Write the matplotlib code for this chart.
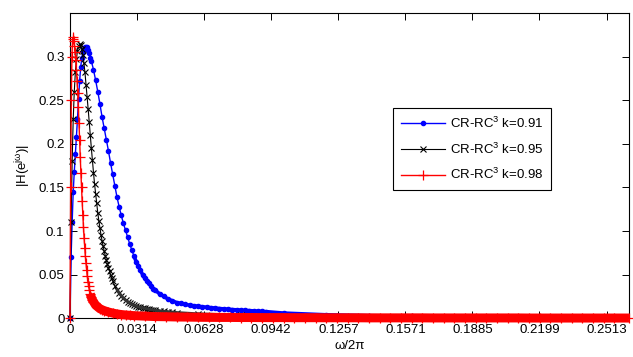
import matplotlib
matplotlib.use('Agg')
import matplotlib.pyplot as plt
import numpy as np

plt.rcParams['font.family'] = ['Liberation Sans', 'DejaVu Sans']
plt.rcParams['mathtext.fontset'] = 'custom'
plt.rcParams['mathtext.rm'] = 'Liberation Sans'
plt.rcParams['mathtext.it'] = 'Liberation Sans:italic'
plt.rcParams['mathtext.default'] = 'regular'

# ---- data ----
blue_x = [0, 0.0005, 0.001, 0.0015, 0.002, 0.0025, 0.003, 0.0035, 0.004, 0.0045, 0.005, 0.0055,
          0.006, 0.0065, 0.007, 0.0075, 0.008, 0.0085, 0.009, 0.0095, 0.010, 0.011, 0.012, 0.013,
          0.014, 0.015, 0.016, 0.017, 0.018, 0.019, 0.020, 0.021, 0.022, 0.023, 0.024, 0.025,
          0.026, 0.027, 0.028, 0.029, 0.030, 0.031, 0.032, 0.033, 0.034, 0.035, 0.036, 0.037,
          0.038, 0.039, 0.040, 0.042, 0.044, 0.046, 0.048, 0.050, 0.052, 0.054, 0.056, 0.058,
          0.060, 0.062, 0.064, 0.066, 0.068, 0.070, 0.072, 0.074, 0.076, 0.078, 0.080, 0.082,
          0.084, 0.086, 0.088, 0.090, 0.092, 0.100, 0.120, 0.140, 0.160, 0.180, 0.200, 0.220,
          0.240, 0.260]
blue_y = [0.000, 0.070, 0.110, 0.145, 0.168, 0.188, 0.208, 0.229, 0.252, 0.272, 0.288, 0.298,
          0.305, 0.309, 0.311, 0.311, 0.311, 0.308, 0.304, 0.299, 0.295, 0.285, 0.273, 0.260,
          0.246, 0.231, 0.218, 0.205, 0.192, 0.178, 0.165, 0.152, 0.139, 0.128, 0.118, 0.109,
          0.101, 0.093, 0.085, 0.078, 0.071, 0.065, 0.060, 0.055, 0.050, 0.046, 0.043, 0.040,
          0.037, 0.034, 0.032, 0.028, 0.025, 0.022, 0.020, 0.018, 0.0170, 0.0160, 0.0150, 0.0144,
          0.0138, 0.0132, 0.0127, 0.0122, 0.0117, 0.0112, 0.0108, 0.0104, 0.0100, 0.0097, 0.0094, 0.0091,
          0.0088, 0.0085, 0.0082, 0.0079, 0.0076, 0.0060, 0.0040, 0.0030, 0.0025, 0.0020, 0.0018, 0.0015,
          0.0013, 0.0012]

black_x = [0, 0.0005, 0.001, 0.0015, 0.002, 0.0025, 0.003, 0.0035, 0.004, 0.0045, 0.005, 0.0055,
           0.006, 0.0065, 0.007, 0.0075, 0.008, 0.0085, 0.009, 0.0095, 0.010, 0.0105, 0.011, 0.0115,
           0.012, 0.0125, 0.013, 0.0135, 0.014, 0.0145, 0.015, 0.0155, 0.016, 0.0165, 0.017, 0.0175,
           0.018, 0.0185, 0.019, 0.0195, 0.020, 0.021, 0.022, 0.023, 0.024, 0.025, 0.026, 0.027,
           0.028, 0.029, 0.030, 0.031, 0.032, 0.033, 0.034, 0.035, 0.036, 0.037, 0.038, 0.039,
           0.040, 0.042, 0.044, 0.046, 0.048, 0.050, 0.060, 0.080, 0.100, 0.140, 0.180, 0.220, 0.260]
black_y = [0.000, 0.110, 0.180, 0.228, 0.260, 0.282, 0.297, 0.307, 0.312, 0.314, 0.313, 0.309,
           0.302, 0.293, 0.282, 0.268, 0.254, 0.240, 0.225, 0.210, 0.195, 0.181, 0.167, 0.154,
           0.143, 0.132, 0.121, 0.112, 0.104, 0.096, 0.089, 0.083, 0.077, 0.072, 0.067, 0.062,
           0.058, 0.054, 0.050, 0.046, 0.043, 0.037, 0.033, 0.029, 0.026, 0.023, 0.021, 0.019,
           0.0175, 0.016, 0.015, 0.014, 0.013, 0.0125, 0.012, 0.0115, 0.011, 0.0105, 0.010, 0.0096,
           0.0092, 0.0085, 0.0080, 0.0075, 0.0070, 0.0065, 0.0050, 0.0035, 0.0025, 0.0015, 0.0010, 0.0008, 0.0006]

red_x = [0, 0.0003, 0.0006, 0.0009, 0.0012, 0.0015, 0.0018, 0.0021, 0.0024, 0.0027, 0.0030, 0.0033,
         0.0036, 0.0039, 0.0042, 0.0045, 0.0048, 0.0051, 0.0054, 0.0057, 0.0060, 0.0063, 0.0066, 0.0069,
         0.0072, 0.0075, 0.0078, 0.0081, 0.0084, 0.0087, 0.0090, 0.0095, 0.0100, 0.0105, 0.0110, 0.0115,
         0.0120, 0.013, 0.014, 0.015, 0.016, 0.018, 0.020, 0.022, 0.024, 0.026, 0.028, 0.030,
         0.035, 0.040, 0.045, 0.050, 0.055, 0.060, 0.065, 0.070, 0.075, 0.080, 0.085, 0.090,
         0.095, 0.100, 0.105, 0.110, 0.115, 0.120, 0.125, 0.130, 0.135, 0.140, 0.145, 0.150,
         0.155, 0.160, 0.165, 0.170, 0.175, 0.180, 0.185, 0.190, 0.195, 0.200, 0.205, 0.210,
         0.215, 0.220, 0.225, 0.230, 0.235, 0.240, 0.245, 0.250, 0.255, 0.2618]
red_y = [0.000, 0.150, 0.250, 0.300, 0.320, 0.322, 0.318, 0.312, 0.305, 0.296, 0.285, 0.272,
         0.258, 0.242, 0.224, 0.205, 0.185, 0.167, 0.150, 0.134, 0.119, 0.105, 0.092, 0.081,
         0.071, 0.063, 0.055, 0.048, 0.042, 0.037, 0.033, 0.028, 0.024, 0.021, 0.019, 0.017,
         0.015, 0.013, 0.011, 0.0098, 0.0088, 0.0072, 0.0060, 0.0050, 0.0043, 0.0038, 0.0034, 0.0030,
         0.0025, 0.0020, 0.0018, 0.0015, 0.0014, 0.0012, 0.0011, 0.0010, 0.0010, 0.0009, 0.0009, 0.0008,
         0.0008, 0.0008, 0.0007, 0.0007, 0.0007, 0.0006, 0.0006, 0.0006, 0.0006, 0.0005, 0.0005, 0.0005,
         0.0005, 0.0005, 0.0005, 0.0004, 0.0004, 0.0004, 0.0004, 0.0004, 0.0004, 0.0004, 0.0004, 0.0004,
         0.0003, 0.0003, 0.0003, 0.0003, 0.0003, 0.0003, 0.0003, 0.0003, 0.0003, 0.0003]

labels = ['CR-RC$^3$ k=0.91', 'CR-RC$^3$ k=0.95', 'CR-RC$^3$ k=0.98']
xtick_vals = [0, 0.0314, 0.0628, 0.0942, 0.1257, 0.1571, 0.1885, 0.2199, 0.2513]
xtick_labels = ['0', '0.0314', '0.0628', '0.0942', '0.1257', '0.1571', '0.1885', '0.2199', '0.2513']
ytick_vals = [0, 0.05, 0.1, 0.15, 0.2, 0.25, 0.3]
ytick_labels = ['0', '0.05', '0.1', '0.15', '0.2', '0.25', '0.3']

# ---- figure ----
fig = plt.figure(figsize=(6.33, 3.57), dpi=100)
ax = fig.add_axes([0.1106, 0.1084, 0.883, 0.855])

bx, by = np.array(blue_x), np.array(blue_y)
kx, ky = np.array(black_x), np.array(black_y)
rx, ry = np.array(red_x), np.array(red_y)

ax.plot(bx, by, color='#0000ff', lw=1.0, marker='.', ms=6, label=labels[0], clip_on=False, zorder=3)
# densely sampled dots merge into a thick blue band on the tail
mb = bx >= 0.030
ax.plot(bx[mb], by[mb], color='#0000ff', lw=2.6, solid_capstyle='round', clip_on=False, zorder=3)

ax.plot(kx, ky, color='#000000', lw=0.8, marker='x', ms=4.5, mew=0.8, label=labels[1], clip_on=False, zorder=4)
mk = kx >= 0.022
ax.plot(kx[mk], ky[mk], color='#333333', lw=2.2, solid_capstyle='round', clip_on=False, zorder=4)

ax.plot(rx, ry, color='#ff0000', lw=1.0, marker='+', ms=7.5, mew=0.9, label=labels[2], clip_on=False, zorder=5)
# dense '+' marks merge into a solid red band along the tail
mr = rx >= 0.0095
ax.plot(rx[mr], ry[mr], color='#ff0000', lw=6.5, solid_capstyle='butt', clip_on=False, zorder=5)

ax.set_xlim(0, 0.2618)
ax.set_ylim(0, 0.35)
ax.set_xticks(xtick_vals)
ax.set_xticklabels(xtick_labels)
ax.set_yticks(ytick_vals)
ax.set_yticklabels(ytick_labels)
ax.tick_params(direction='in', length=5, width=0.7, top=True, right=True,
               labelsize=9.5, pad=4, colors='#000000')
for s in ax.spines.values():
    s.set_linewidth(0.8)
    s.set_color('#000000')

ax.set_xlabel('ω/2π', fontsize=9.5, labelpad=3)
ax.set_ylabel('|H(e$^{jω}$)|', fontsize=9.5, labelpad=4)

leg = ax.legend(loc='upper left', bbox_to_anchor=(0.578, 0.690), borderaxespad=0,
                fontsize=9.5, handlelength=3.3, handletextpad=0.4, labelspacing=0.8,
                borderpad=0.6, numpoints=1, fancybox=False, framealpha=1, edgecolor='#000000')
leg.get_frame().set_linewidth(0.8)

fig.savefig('out.png', dpi=100)
